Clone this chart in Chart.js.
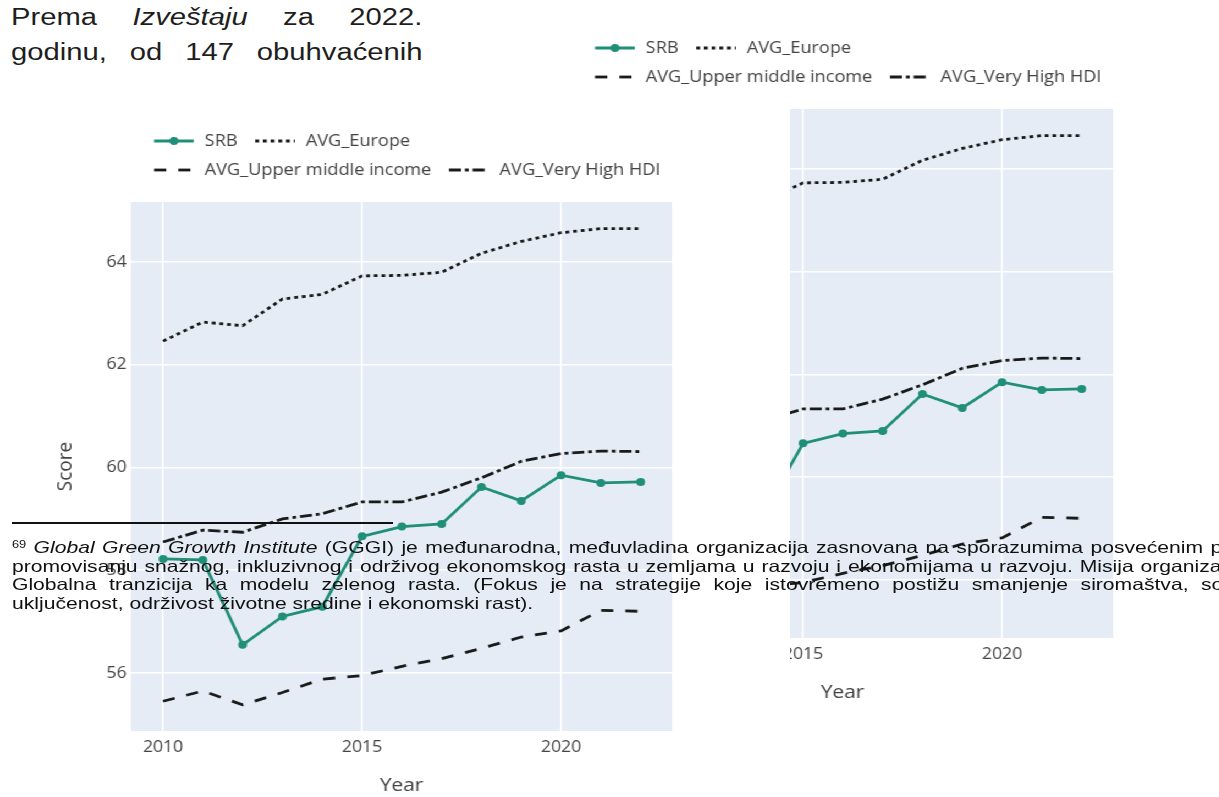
<!DOCTYPE html>
<html>
<head>
<meta charset="utf-8">
<script src="https://cdn.jsdelivr.net/npm/chart.js@4.4.0/dist/chart.umd.min.js"></script>
<style>
html, body { margin: 0; padding: 0; background: #fff; }
body { width: 1219px; height: 797px; overflow: hidden; position: relative; font-family: "Liberation Sans", Arial, sans-serif; color: #1e1e1e; }
.fig { position: absolute; width: 718px; height: 689px; transform: scaleX(1.1); transform-origin: 0 0; background: #fff; }
#figRight { left: 441px; top: 15px; z-index: 1; }
#figLeft { left: 0; top: 108px; z-index: 2; }
.para { position: absolute; left: 11px; width: 324px; font-size: 23px; line-height: 35px; text-align: justify; text-align-last: justify; transform: scaleX(1.27); transform-origin: 0 0; z-index: 3; }
#rule { position: absolute; left: 12px; top: 522px; width: 381px; height: 2px; background: #111; z-index: 3; }
.fn { position: absolute; left: 12px; font-size: 16.5px; line-height: 18.5px; white-space: nowrap; transform: scaleX(1.28); transform-origin: 0 0; z-index: 3; color: #111; }
.fn sup { font-size: 10px; vertical-align: top; position: relative; top: -2px; }
</style>
</head>
<body>

<div class="para" style="top:0px">Prema <i>Izveštaju</i> za 2022.</div>
<div class="para" style="top:35px">godinu, od 147 obuhvaćenih</div>

<div class="fig" id="figRight"><canvas id="chartRight" width="718" height="689"></canvas></div>
<div class="fig" id="figLeft"><canvas id="chartLeft" width="718" height="689"></canvas></div>

<div id="rule"></div>
<div class="fn" data-right="1222" style="top:538px"><sup>69</sup> <i>Global Green Growth Institute</i> (GGGI) je međunarodna, međuvladina organizacija zasnovana na sporazumima posvećenim p</div>
<div class="fn" data-right="1222" style="top:556.5px">promovisanju snažnog, inkluzivnog i održivog ekonomskog rasta u zemljama u razvoju i ekonomijama u razvoju. Misija organiza</div>
<div class="fn" data-right="1224" style="top:575px">Globalna tranzicija ka modelu zelenog rasta. (Fokus je na strategije koje istovremeno postižu smanjenje siromaštva, so</div>
<div class="fn" style="top:593.5px">uključenost, održivost životne sredine i ekonomski rast).</div>

<script>
// data
const years = [2010, 2011, 2012, 2013, 2014, 2015, 2016, 2017, 2018, 2019, 2020, 2021, 2022];
const srb = [58.22, 58.2, 56.55, 57.1, 57.29, 58.66, 58.85, 58.9, 59.62, 59.35, 59.85, 59.7, 59.72];
const avgEurope = [62.46, 62.83, 62.76, 63.28, 63.37, 63.73, 63.74, 63.8, 64.17, 64.4, 64.57, 64.65, 64.65];
const avgUpperMiddle = [55.45, 55.65, 55.38, 55.62, 55.88, 55.95, 56.13, 56.28, 56.48, 56.7, 56.82, 57.22, 57.2];
const avgVeryHighHdi = [58.55, 58.78, 58.74, 59.0, 59.1, 59.33, 59.33, 59.52, 59.8, 60.12, 60.27, 60.32, 60.31];
const xTicks = [2010, 2015, 2020];
const yTicks = [56, 58, 60, 62, 64];
const legendRows = [[0, 1], [2, 3]];

Chart.defaults.font.family = '"Open Sans", sans-serif';
Chart.defaults.color = '#444';

function pts(arr) {
    return years.map(function (y, i) { return { x: y, y: arr[i] }; });
}

const plotBg = {
    id: 'plotBg',
    beforeDraw(chart) {
        const a = chart.chartArea;
        const ctx = chart.ctx;
        ctx.save();
        ctx.fillStyle = '#fff';
        ctx.fillRect(0, 0, chart.width, chart.height);
        ctx.fillStyle = '#E5ECF6';
        ctx.fillRect(a.left, a.top, a.right - a.left, a.bottom - a.top);
        ctx.restore();
    }
};

const rowLegend = {
    id: 'rowLegend',
    afterDraw(chart) {
        const ctx = chart.ctx;
        const a = chart.chartArea;
        ctx.save();
        ctx.font = '16.5px "Open Sans"';
        ctx.textBaseline = 'middle';
        legendRows.forEach(function (row, r) {
            let x = a.left + 21;
            const y = a.top - 61 + r * 29;
            row.forEach(function (i) {
                const ds = chart.data.datasets[i];
                ctx.strokeStyle = ds.borderColor;
                ctx.lineWidth = ds.borderWidth;
                ctx.setLineDash(ds.borderDash || []);
                ctx.beginPath();
                ctx.moveTo(x, y);
                ctx.lineTo(x + 36, y);
                ctx.stroke();
                ctx.setLineDash([]);
                if (ds.pointRadius) {
                    ctx.fillStyle = ds.borderColor;
                    ctx.beginPath();
                    ctx.arc(x + 18, y, ds.pointRadius, 0, Math.PI * 2);
                    ctx.fill();
                }
                ctx.fillStyle = '#444';
                ctx.fillText(ds.label, x + 46, y);
                x += 46 + ctx.measureText(ds.label).width + 16;
            });
        });
        ctx.restore();
    }
};

function makeChart(id) {
    const ctx = document.getElementById(id).getContext('2d');
    return new Chart(ctx, {
        type: 'line',
        data: {
            datasets: [{
                label: 'SRB',
                data: pts(srb),
                borderColor: '#1f8f78',
                backgroundColor: '#1f8f78',
                borderWidth: 2.8,
                pointRadius: 4,
                pointBackgroundColor: '#1f8f78',
                pointBorderWidth: 0,
                order: 0
            }, {
                label: 'AVG_Europe',
                data: pts(avgEurope),
                borderColor: '#1a1a1a',
                borderWidth: 2.8,
                borderDash: [3.5, 3.5],
                pointRadius: 0
            }, {
                label: 'AVG_Upper middle income',
                data: pts(avgUpperMiddle),
                borderColor: '#1a1a1a',
                borderWidth: 2.8,
                borderDash: [11, 11],
                pointRadius: 0
            }, {
                label: 'AVG_Very High HDI',
                data: pts(avgVeryHighHdi),
                borderColor: '#1a1a1a',
                borderWidth: 2.8,
                borderDash: [11, 3.5, 3.5, 3.5],
                pointRadius: 0
            }]
        },
        options: {
            responsive: false,
            animation: false,
            devicePixelRatio: 1,
            layout: { padding: { top: 94, right: 107, left: 0, bottom: 0 } },
            plugins: { legend: { display: false }, tooltip: { enabled: false } },
            scales: {
                x: {
                    type: 'linear',
                    min: 2009.196,
                    max: 2022.79,
                    afterBuildTicks: function (s) { s.ticks = xTicks.map(function (v) { return { value: v }; }); },
                    afterFit: function (s) { s.height = 66; },
                    ticks: { font: { size: 16 }, padding: 7, maxRotation: 0, callback: function (v) { return String(v); } },
                    grid: { color: '#fff', lineWidth: 1.6, drawTicks: false },
                    border: { display: false },
                    title: { display: true, text: 'Year', font: { size: 19 }, padding: { top: 0, bottom: 0 } }
                },
                y: {
                    min: 54.871,
                    max: 65.168,
                    afterBuildTicks: function (s) { s.ticks = yTicks.map(function (v) { return { value: v }; }); },
                    afterFit: function (s) { s.width = 119.1; },
                    ticks: { font: { size: 16 }, padding: 4, callback: function (v) { return String(v); } },
                    grid: { color: '#fff', lineWidth: 1.6, drawTicks: false },
                    border: { display: false },
                    title: { display: true, text: 'Score', font: { size: 19 }, padding: { top: 48, bottom: 0 } }
                }
            }
        },
        plugins: [plotBg, rowLegend]
    });
}

makeChart('chartRight');
makeChart('chartLeft');

// stretch justified footnote lines to their right edge
document.querySelectorAll('.fn[data-right]').forEach(function (el) {
    const target = (parseFloat(el.dataset.right) - 12) / 1.28;
    const natural = el.scrollWidth;
    const spaces = (el.textContent.match(/ /g) || []).length;
    el.style.wordSpacing = ((target - natural) / spaces) + 'px';
});
</script>
</body>
</html>
